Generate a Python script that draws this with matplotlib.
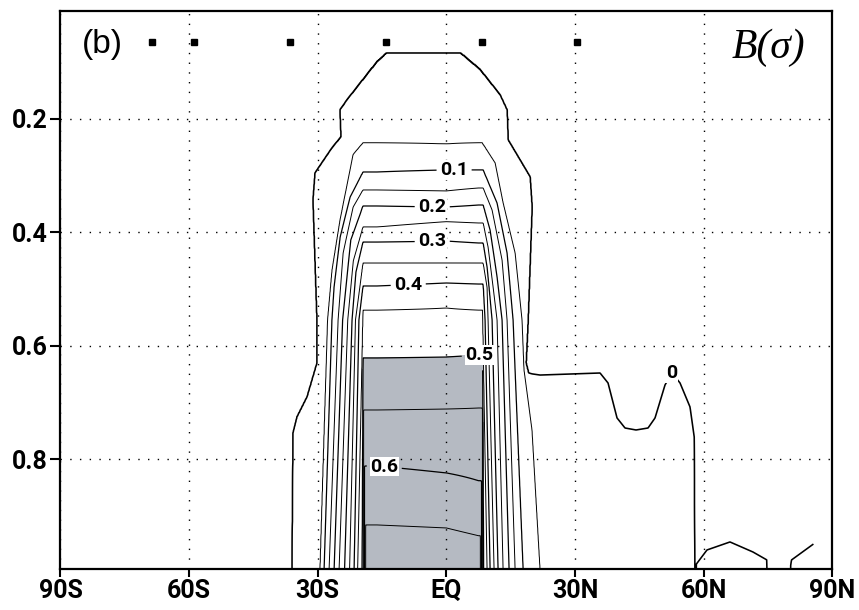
import numpy as np
import matplotlib
matplotlib.use("Agg")
import matplotlib.pyplot as plt

# ---------------- data ----------------
LEVELS = [0.0, 0.05, 0.1, 0.15, 0.2, 0.25, 0.3, 0.35, 0.4, 0.45, 0.5, 0.55, 0.6, 0.65]

# central (plateau) profile: sigma at which B reaches each value, at three latitudes
CENTER_LATS = [-16.2, 0.0, 7.5]
CENTER_VALUES = [-0.02, 0.0, 0.05, 0.1, 0.15, 0.2, 0.25, 0.3, 0.35, 0.4, 0.45, 0.5, 0.55, 0.6, 0.65, 0.7]
CENTER_SIGMA_WEST = [0.0095, 0.0836, 0.2423, 0.2935, 0.3252, 0.3534, 0.3905, 0.4169, 0.4540, 0.4945, 0.5369, 0.6215, 0.7132, 0.8120, 0.9160, 1.0100]
CENTER_SIGMA_MID = [0.0095, 0.0836, 0.2441, 0.2899, 0.3270, 0.3552, 0.3810, 0.4152, 0.4540, 0.4892, 0.5333, 0.6198, 0.7115, 0.8243, 0.9213, 1.0200]
CENTER_SIGMA_EAST = [0.0095, 0.0836, 0.2423, 0.2899, 0.3217, 0.3517, 0.3834, 0.4187, 0.4540, 0.4910, 0.5369, 0.6162, 0.7097, 0.8380, 0.9350, 1.0300]

# southern flank: latitude of each contour level at several sigma
LEFT_EDGE_SIGMA = [
    [0.0836, 0.0995, 0.1665, 0.1841, 0.2317, 0.2511, 0.2952, 0.3429, 0.5545, 0.6303, 0.6903, 0.7255, 0.7538, 0.9937],
    [0.2423, 0.2628, 0.3781, 0.4663, 0.5545, 0.9937],
    [0.2935, 0.3376, 0.4081, 0.4963, 0.5545, 0.9937],
    [0.3252, 0.3552, 0.4363, 0.5545, 0.9937],
    [0.3534, 0.4134, 0.5545, 0.9937],
    [0.3905, 0.4500, 0.5545, 0.9937],
    [0.4169, 0.4700, 0.5545, 0.9937],
    [0.4540, 0.5545, 0.9937],
    [0.4945, 0.5545, 0.9937],
    [0.5369, 0.9937],
    [0.6286, 0.9937],
    [0.7220, 0.9937],
    [0.8155, 0.9937],
    [0.9250, 0.9937],
]
LEFT_EDGE_LAT = [
    [-13.83, -16.15, -23.15, -24.78, -24.55, -26.65, -30.61, -31.08, -30.15, -30.15, -32.48, -34.82, -35.75, -35.98],
    [-19.42, -21.75, -24.78, -26.65, -27.70, -29.45],
    [-19.42, -22.45, -24.78, -26.20, -26.70, -28.52],
    [-19.42, -21.75, -24.08, -25.25, -27.35],
    [-19.42, -22.30, -24.20, -26.18],
    [-19.42, -21.70, -23.00, -25.02],
    [-19.42, -21.10, -22.00, -23.74],
    [-19.42, -21.20, -22.57],
    [-19.42, -20.40, -21.52],
    [-19.42, -20.70],
    [-19.42, -19.65],
    [-19.30, -19.30],
    [-19.10, -19.10],
    [-18.85, -18.85],
]

# northern flank
RIGHT_EDGE_SIGMA = [
    [0.0836, 0.1136, 0.1577, 0.1841, 0.2370, 0.3023, 0.3552, 0.5545, 0.6303, 0.7000, 0.9937],
    [0.2423, 0.2776, 0.3481, 0.4363, 0.5545, 0.6427, 0.7485, 0.9937],
    [0.2899, 0.3481, 0.4363, 0.5545, 0.9937],
    [0.3217, 0.3605, 0.4487, 0.5545, 0.9937],
    [0.3517, 0.3958, 0.4787, 0.5545, 0.9937],
    [0.3834, 0.4257, 0.4963, 0.5545, 0.9937],
    [0.4187, 0.4610, 0.5545, 0.9937],
    [0.4540, 0.4963, 0.5545, 0.9937],
    [0.4910, 0.5545, 0.9937],
    [0.5369, 0.9937],
    [0.6162, 0.9937],
    [0.7097, 0.9937],
    [0.8402, 0.9937],
    [0.9370, 0.9937],
]
RIGHT_EDGE_LAT = [
    [3.19, 7.86, 12.52, 14.15, 14.39, 19.52, 19.98, 19.05, 18.58, 20.90, 23.30],
    [8.32, 11.36, 13.22, 16.02, 17.65, 18.12, 19.98, 21.85],
    [8.55, 11.82, 14.15, 15.55, 17.88],
    [8.55, 10.66, 12.99, 14.15, 16.02],
    [8.55, 10.19, 11.82, 12.99, 14.62],
    [8.55, 9.72, 10.89, 11.82, 13.22],
    [8.55, 9.49, 10.66, 12.05],
    [8.55, 9.49, 9.72, 11.12],
    [8.55, 9.02, 10.19],
    [8.40, 9.49],
    [8.45, 8.67],
    [8.40, 8.40],
    [8.20, 8.20],
    [7.95, 7.95],
]

# zero line of the weak positive region in the northern lower troposphere
ZERO_NORTH_LAT = [15.0, 17.0, 18.58, 21.85, 35.84, 37.70, 39.80, 41.66, 44.23, 47.03, 48.66, 50.99,
                  52.62, 54.49, 56.82, 57.80, 58.00, 58.10, 58.30, 60.78, 66.14, 71.50, 74.77, 74.90,
                  80.10, 80.25, 80.48, 85.61]
ZERO_NORTH_SIGMA = [2.0, 0.648, 0.648, 0.6516, 0.648, 0.6656, 0.7273, 0.7450, 0.7485, 0.7450, 0.7273, 0.6691,
                    0.648, 0.6656, 0.7079, 0.7608, 1.10, 1.10, 0.985, 0.9601, 0.9460, 0.9637, 0.9778, 1.10,
                    1.10, 0.990, 0.9778, 0.9496]

MARKER_LATS = [-68.6, -58.9, -36.4, -14.0, 8.4, 30.5]
MARKER_SIGMA = 0.064

X_TICKS = [-90, -60, -30, 0, 30, 60, 90]
X_TICKLABELS = ["90S", "60S", "30S", "EQ", "30N", "60N", "90N"]
Y_TICKS = [0.2, 0.4, 0.6, 0.8]
Y_TICKLABELS = ["0.2", "0.4", "0.6", "0.8"]

LABEL_LEVELS = [0.1, 0.2, 0.3, 0.4, 0.5, 0.6, 0.0]
LABEL_LATS = [1.8, -3.3, -3.3, -8.9, 7.7, -14.5, 52.6]
LABEL_SIGMAS = [0.289, 0.355, 0.415, 0.491, 0.614, 0.8155, 0.649]

SIGMA_TOP, SIGMA_BOTTOM = 0.0095, 0.9937
LAT_GRID_MAX = 85.6

# ---------------- field ----------------
lat = np.linspace(-LAT_GRID_MAX, LAT_GRID_MAX, 1713)
sig = np.linspace(SIGMA_TOP, SIGMA_BOTTOM, 493)
nlev = len(LEVELS)
eps = 0.02

cw = np.interp(sig, CENTER_SIGMA_WEST, CENTER_VALUES)
cm = np.interp(sig, CENTER_SIGMA_MID, CENTER_VALUES)
ce = np.interp(sig, CENTER_SIGMA_EAST, CENTER_VALUES)

B = np.empty((sig.size, lat.size))
ks = [-0.04] + LEVELS + [1.5]
zn = np.interp(lat, ZERO_NORTH_LAT, ZERO_NORTH_SIGMA)
for j, s in enumerate(sig):
    C = np.interp(lat, CENTER_LATS, [cw[j], cm[j], ce[j]])
    lp = [np.interp(s, LEFT_EDGE_SIGMA[k], LEFT_EDGE_LAT[k]) for k in range(nlev)]
    rp = [np.interp(s, RIGHT_EDGE_SIGMA[k], RIGHT_EDGE_LAT[k]) for k in range(nlev)]
    for k in range(1, nlev):
        lp[k] = max(lp[k], lp[k - 1] + eps)
        rp[k] = min(rp[k], rp[k - 1] - eps)
    SL = np.interp(lat, [-90.0] + lp + [-5.5], ks)
    SR = np.interp(-lat, [-90.0] + [-v for v in rp] + [5.5], ks)
    main = np.minimum(C, np.minimum(SL, SR))
    far = np.clip(0.4 * (s - zn), -0.03, 0.03)
    B[j] = np.maximum(main, far)

# ---------------- fonts ----------------
NARROW = ["Roboto", "DejaVu Sans"]
TICK_FS, CLABEL_FS = 18, 14

# ---------------- plot ----------------
fig = plt.figure(figsize=(8.59, 6.10), dpi=100)
ax = fig.add_axes([0.0704, 0.0672, 0.8985, 0.9148])

ax.contourf(lat, sig, B, levels=[0.5, 10.0], colors=["#b5bac2"], zorder=1)


def line_width(v):
    if v == 0:
        return 1.15
    if abs(v * 10 - round(v * 10)) < 1e-6:
        return 0.9
    return 0.7


def fmt(v):
    return "%g" % round(v, 2)


sets = {}
for v in LEVELS:
    sets[v] = ax.contour(lat, sig, B, levels=[v], colors="black",
                         linewidths=line_width(v), zorder=2)

label_texts = []
for lev, la, sg in zip(LABEL_LEVELS, LABEL_LATS, LABEL_SIGMAS):
    cs = sets[lev]
    cs.clabel(manual=[(la, sg)], inline=True, inline_spacing=3, fmt=fmt, fontsize=CLABEL_FS)
    label_texts.extend(cs.labelTexts)
for t in label_texts:
    t.set_rotation(0)
    t.set_fontfamily(NARROW)
    t.set_fontweight("bold")
    t.set_bbox(dict(facecolor="white", edgecolor="none", pad=0.6))
    t.set_zorder(5)

ax.plot(MARKER_LATS, [MARKER_SIGMA] * len(MARKER_LATS), "s", color="black",
        markersize=5, zorder=4, clip_on=False)

ax.set_xlim(-90, 90)
ax.set_ylim(SIGMA_BOTTOM, SIGMA_TOP)
ax.set_xticks(X_TICKS)
ax.set_xticklabels(X_TICKLABELS)
ax.set_yticks(Y_TICKS)
ax.set_yticklabels(Y_TICKLABELS)
for lab in ax.get_xticklabels() + ax.get_yticklabels():
    lab.set_fontfamily(NARROW)
    lab.set_fontweight("bold")
    lab.set_fontsize(TICK_FS)
ax.tick_params(axis="x", direction="out", length=6, width=1.5, pad=1)
ax.tick_params(axis="y", direction="out", length=7, width=1.5, pad=2)
ax.grid(True, linestyle=(0, (1, 6)), color="black", linewidth=1.0, zorder=3)
ax.set_axisbelow(False)
for sp in ax.spines.values():
    sp.set_linewidth(1.6)
    sp.set_zorder(6)

ax.text(0.028, 0.94, "(b)", transform=ax.transAxes, ha="left", va="center",
        fontsize=24, family=["Liberation Sans", "DejaVu Sans"], zorder=6)
ax.text(0.965, 0.935, "B(σ)", transform=ax.transAxes, ha="right", va="center",
        fontsize=30, family=["Liberation Serif", "DejaVu Serif"], style="italic", zorder=6)

fig.savefig("out.png", dpi=100)
